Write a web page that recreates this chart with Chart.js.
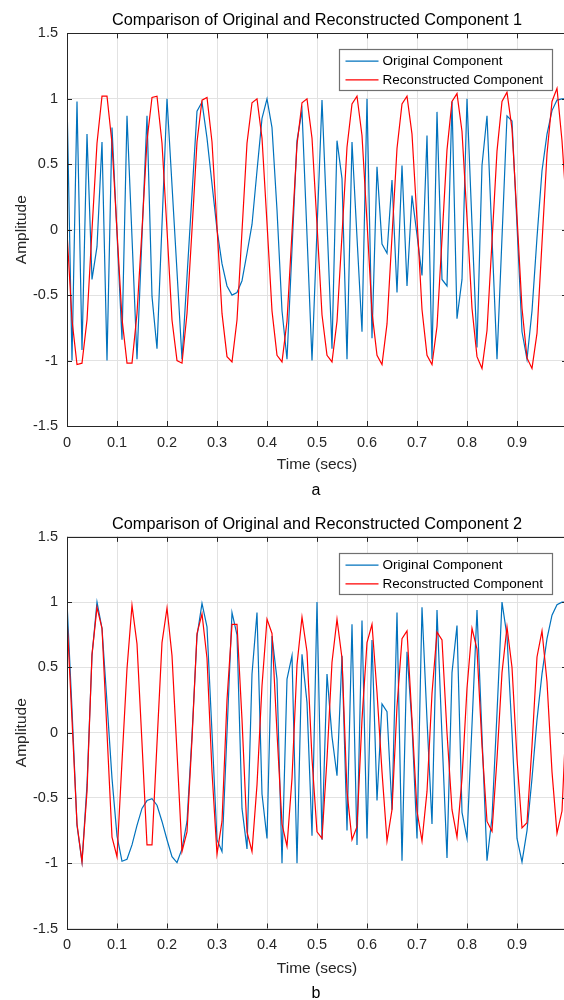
<!DOCTYPE html>
<html><head><meta charset="utf-8">
<script src="https://cdn.jsdelivr.net/npm/chart.js@4.4.0/dist/chart.umd.min.js"></script>
<style>
html,body{margin:0;padding:0;background:#fff;overflow:hidden;width:564px;height:1000px;}
.wrap{position:absolute;left:0;width:580px;height:500px;}
.cap{position:absolute;left:0;width:632px;text-align:center;font:16px "Liberation Sans",Arial,sans-serif;color:#000;line-height:20px;}
</style></head><body>
<div class="wrap" style="top:0"><canvas id="ca" width="580" height="500"></canvas></div>
<div class="wrap" style="top:500px"><canvas id="cb" width="580" height="500"></canvas></div>
<div class="cap" style="top:480px">a</div>
<div class="cap" style="top:983px">b</div>
<script>
// sample times (secs)
const time = [0,0.01,0.02,0.03,0.04,0.05,0.06,0.07,0.08,0.09,0.1,0.11,0.12,0.13,0.14,0.15,0.16,0.17,0.18,0.19,0.2,0.21,0.22,0.23,0.24,0.25,0.26,0.27,0.28,0.29,0.3,0.31,0.32,0.33,0.34,0.35,0.36,0.37,0.38,0.39,0.4,0.41,0.42,0.43,0.44,0.45,0.46,0.47,0.48,0.49,0.5,0.51,0.52,0.53,0.54,0.55,0.56,0.57,0.58,0.59,0.6,0.61,0.62,0.63,0.64,0.65,0.66,0.67,0.68,0.69,0.7,0.71,0.72,0.73,0.74,0.75,0.76,0.77,0.78,0.79,0.8,0.81,0.82,0.83,0.84,0.85,0.86,0.87,0.88,0.89,0.9,0.91,0.92,0.93,0.94,0.95,0.96,0.97,0.98,0.99,1];

// Component 1
const original1 = [1.0,-1.0,0.98,-0.92,0.73,-0.38,-0.13,0.67,-1.0,0.78,
 -0.03,-0.84,0.87,-0.06,-0.99,-0.05,0.87,-0.51,-0.91,0.04,
 1.0,0.34,-0.32,-0.99,-0.36,0.27,0.905,0.975,0.7,0.35,
 0.0,-0.26,-0.43,-0.5,-0.48,-0.39,-0.18,0.04,0.45,0.85,
 1.0,0.78,0.15,-0.62,-0.99,-0.15,0.68,0.91,-0.04,-1.0,
 0.0,0.99,0.05,-0.91,0.68,0.39,-0.99,0.67,-0.06,-0.78,
 1.0,-0.83,0.48,-0.11,-0.18,0.38,-0.48,0.49,-0.43,0.26,
 -0.04,-0.35,0.72,-0.99,0.9,-0.38,-0.43,0.98,-0.68,-0.38,
 1.0,0.04,-0.9,0.49,0.87,-0.06,-0.99,-0.06,0.87,0.83,
 0.03,-0.78,-0.99,-0.62,-0.06,0.45,0.73,0.91,0.99,1.0,1.0];
const reconstructed1 = [-0.02,-0.69,-1.03,-1.02,-0.69,0.0,0.66,1.02,1.02,0.66,
 -0.01,-0.68,-1.02,-1.02,-0.64,0.0,0.68,1.01,1.02,0.66,
 0.0,-0.69,-1.0,-1.02,-0.64,0.0,0.67,0.99,1.01,0.67,
 0.02,-0.64,-0.97,-1.01,-0.69,-0.01,0.66,0.97,1.0,0.7,
 0.05,-0.62,-0.96,-1.01,-0.7,-0.02,0.65,0.97,1.0,0.7,
 0.04,-0.65,-0.96,-1.01,-0.7,-0.04,0.63,0.96,1.02,0.72,
 0.06,-0.63,-0.96,-1.03,-0.72,-0.05,0.62,0.96,1.02,0.73,
 0.08,-0.61,-0.96,-1.03,-0.74,-0.07,0.61,0.98,1.04,0.75,
 0.09,-0.6,-0.97,-1.06,-0.77,-0.09,0.6,0.98,1.05,0.77,
 0.1,-0.6,-0.98,-1.06,-0.79,-0.1,0.58,0.98,1.08,0.68,0.1];

// Component 2
const original2 = [1.0,0.18,-0.71,-0.99,-0.4,0.59,1.0,0.8,0.23,-0.35,
 -0.79,-0.985,-0.97,-0.86,-0.71,-0.58,-0.52,-0.505,-0.556,-0.68,
 -0.82,-0.95,-0.995,-0.89,-0.68,-0.02,0.74,0.99,0.81,0.0,
 -0.82,-0.91,0.0,0.92,0.75,-0.58,-0.89,0.45,0.92,-0.47,
 -0.81,0.74,0.41,-1.0,0.41,0.59,-1.0,0.6,0.23,-0.79,
 1.0,-0.82,0.45,-0.03,-0.33,0.59,-0.75,0.83,-0.86,0.86,
 -0.81,0.71,-0.52,0.22,0.16,-0.59,0.92,-0.98,0.62,0.06,
 -0.81,0.96,0.1,-0.7,0.94,-0.03,-0.96,0.46,0.82,-0.61,
 -0.81,0.06,0.94,-0.02,-0.98,-0.65,0.15,1.0,0.74,0.0,
 -0.81,-0.99,-0.75,-0.35,0.1,0.45,0.72,0.9,0.98,1.0,1.0];
const reconstructed2 = [0.885,0.1,-0.7,-0.99,-0.45,0.6,0.96,0.8,0.0,-0.8,
 -0.95,-0.22,0.49,0.975,0.68,-0.08,-0.86,-0.86,-0.08,0.69,
 0.955,0.59,-0.15,-0.91,-0.76,-0.05,0.76,0.91,0.57,-0.3,
 -0.93,-0.68,0.25,0.83,0.83,0.1,-0.76,-0.91,-0.4,0.36,
 0.87,0.76,0.0,-0.7,-0.87,-0.35,0.52,0.885,0.62,-0.2,
 -0.76,-0.81,-0.2,0.54,0.87,0.57,-0.45,-0.82,-0.72,0.1,
 0.69,0.83,0.31,-0.3,-0.83,-0.59,0.2,0.72,0.78,0.1,
 -0.6,-0.83,-0.45,0.3,0.77,0.71,0.0,-0.59,-0.8,-0.35,
 0.34,0.8,0.64,-0.1,-0.68,-0.755,-0.2,0.46,0.81,0.5,
 -0.2,-0.73,-0.69,-0.1,0.58,0.78,0.39,-0.3,-0.77,-0.6,0.25];

const xTickLabels = ['0','0.1','0.2','0.3','0.4','0.5','0.6','0.7','0.8','0.9','1'];
const yTickLabels = ['-1.5','-1','-0.5','0','0.5','1','1.5'];
const seriesNames = ['Original Component','Reconstructed Component'];
const titles = ['Comparison of Original and Reconstructed Component 1','Comparison of Original and Reconstructed Component 2'];

const FONT = '"Liberation Sans", Arial, Helvetica, sans-serif';
const AX = '#262626';

const framePlugin = {
  id: 'frame',
  afterDatasetsDraw(chart) {
    const {ctx, chartArea: a, scales: {x, y}} = chart;
    ctx.save();
    ctx.strokeStyle = AX; ctx.lineWidth = 1;
    ctx.beginPath();
    ctx.rect(Math.round(a.left) + 0.5, Math.round(a.top) + 0.5, Math.round(a.right - a.left), Math.round(a.bottom - a.top));
    ctx.stroke();
    const L = 5;
    ctx.beginPath();
    for (let i = 0; i < xTickLabels.length; i++) {
      const px = Math.round(x.getPixelForValue(i / 10)) + 0.5;
      ctx.moveTo(px, a.bottom); ctx.lineTo(px, a.bottom - L);
      ctx.moveTo(px, a.top); ctx.lineTo(px, a.top + L);
    }
    for (let j = 0; j < yTickLabels.length; j++) {
      const py = Math.round(y.getPixelForValue(-1.5 + j * 0.5)) + 0.5;
      ctx.moveTo(a.left, py); ctx.lineTo(a.left + L, py);
      ctx.moveTo(a.right, py); ctx.lineTo(a.right - L, py);
    }
    ctx.stroke();
    // legend box
    const w = 213, h = 41;
    const lx = Math.round(a.right - 15 - w) + 0.5, ly = Math.round(a.top + 16) + 0.5;
    ctx.fillStyle = '#fff';
    ctx.fillRect(lx, ly, w, h);
    ctx.strokeStyle = '#707070'; ctx.lineWidth = 1.2;
    ctx.strokeRect(lx, ly, w, h);
    const ds = chart.data.datasets;
    const rows = [ly + 11.7, ly + 30.3];
    ctx.font = '13.5px ' + FONT;
    ctx.textBaseline = 'middle'; ctx.textAlign = 'left';
    [0, 1].forEach(i => {
      const d = ds.find(dd => dd.label === seriesNames[i]);
      ctx.strokeStyle = d.borderColor; ctx.lineWidth = 1.3;
      ctx.beginPath(); ctx.moveTo(lx + 6, rows[i]); ctx.lineTo(lx + 39, rows[i]); ctx.stroke();
      ctx.fillStyle = '#000';
      ctx.fillText(d.label, lx + 43, rows[i] + 0.5);
    });
    ctx.restore();
  }
};

function makeChart(id, title, blue, red, o) {
  return new Chart(document.getElementById(id), {
    type: 'line',
    data: {
      datasets: [
        {label: seriesNames[0], data: time.map((t, i) => ({x: t, y: blue[i]})), borderColor: '#0072BD', borderWidth: 1.2, pointRadius: 0, tension: 0, order: 2},
        {label: seriesNames[1], data: time.map((t, i) => ({x: t, y: red[i]})), borderColor: '#FF0000', borderWidth: 1.2, pointRadius: 0, tension: 0, order: 1}
      ]
    },
    options: {
      responsive: false, animation: false, events: [],
      layout: {padding: {left: 0, right: 13, top: 0, bottom: o.padBottom}},
      plugins: {
        legend: {display: false}, tooltip: {enabled: false},
        title: {display: true, fullSize: false, text: title, color: '#000', font: {family: FONT, size: 16.3, weight: 'normal'}, padding: {top: o.tTop, bottom: o.tBottom}}
      },
      scales: {
        x: {
          type: 'linear', min: 0, max: 1,
          afterFit: s => { s.height = 60; },
          afterBuildTicks: s => { s.ticks = xTickLabels.map((l, i) => ({value: i / 10})); },
          ticks: {callback: (v, i) => xTickLabels[i], color: AX, font: {family: FONT, size: 14.5}, padding: 8, maxRotation: 0, autoSkip: false},
          grid: {color: '#e2e2e2', drawTicks: false},
          border: {display: false},
          title: {display: true, text: 'Time (secs)', color: AX, font: {family: FONT, size: 15.5}, padding: {top: 0, bottom: o.xtBottom}}
        },
        y: {
          type: 'linear', min: -1.5, max: 1.5,
          afterFit: s => { s.width = 67; },
          afterBuildTicks: s => { s.ticks = yTickLabels.map((l, i) => ({value: -1.5 + i * 0.5})); },
          ticks: {callback: (v, i) => yTickLabels[i], color: AX, font: {family: FONT, size: 14.5}, padding: 9},
          grid: {color: '#e2e2e2', drawTicks: false},
          border: {display: false},
          title: {display: true, text: 'Amplitude', color: AX, font: {family: FONT, size: 15.5}, padding: {top: 12.7, bottom: 0}}
        }
      }
    },
    plugins: [framePlugin]
  });
}

makeChart('ca', titles[0], original1, reconstructed1, {tTop: 10.4, tBottom: 3.4, padBottom: 14, xtBottom: 11.7});
makeChart('cb', titles[1], original2, reconstructed2, {tTop: 14.4, tBottom: 2.9, padBottom: 11.5, xtBottom: 10.2});
</script>
</body></html>
